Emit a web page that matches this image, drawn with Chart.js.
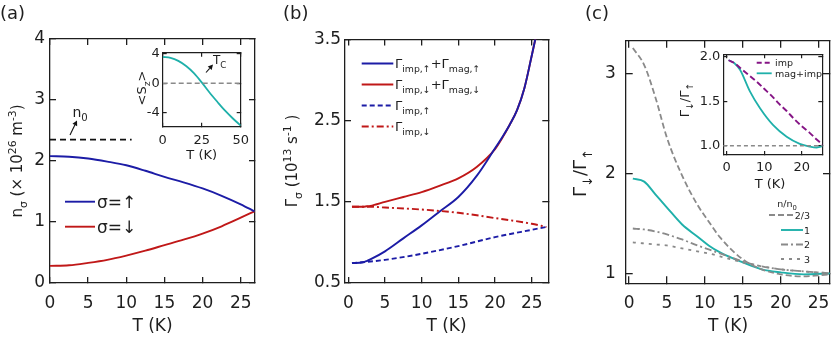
<!DOCTYPE html>
<html>
<head>
<meta charset="utf-8">
<script src="https://cdn.jsdelivr.net/npm/chart.js@4.4.1/dist/chart.umd.min.js"></script>
<style>
html, body { margin: 0; padding: 0; background: #fff; }
#wrap { position: relative; width: 831px; height: 337px; overflow: hidden; }
#wrap canvas { position: absolute; left: 0; top: 0; }
</style>
</head>
<body>
<div id="wrap">
	<canvas id="pa" width="831" height="337"></canvas>
	<canvas id="pas" width="831" height="337"></canvas>
	<canvas id="pb" width="831" height="337"></canvas>
	<canvas id="pc" width="831" height="337"></canvas>
	<canvas id="pcs" width="831" height="337"></canvas>
</div>
<script>
// ---- (a) spin densities
const tA = [0, 2.5, 5, 7.5, 10, 12.5, 15, 17.5, 20, 22.5, 25, 26.8];
const nUp = [2.08, 2.07, 2.04, 1.99, 1.93, 1.84, 1.74, 1.65, 1.55, 1.43, 1.29, 1.175];
const nDown = [0.28, 0.29, 0.33, 0.38, 0.45, 0.53, 0.62, 0.71, 0.81, 0.93, 1.07, 1.175];
const tN0 = [0, 10.7];
const n0 = [2.35, 2.35];
const xTicksA = [0, 5, 10, 15, 20, 25];
const yTicksA = [0, 1, 2, 3, 4];

// ---- (a) inset <Sz>
const tS = [0, 5, 10, 15, 20, 25, 30, 35, 40, 45, 50];
const sz = [3.55, 3.41, 3.0, 2.31, 1.35, 0.11, -1.25, -2.5, -3.7, -4.75, -5.7];
const tSzero = [0, 50];
const szZero = [0, 0];
const xTicksS = [0, 25, 50];
const yTicksS = [-4, 0, 4];

// ---- (b) scattering rates
const tImp = [0.5, 2.5, 5, 10, 15, 20, 25, 27];
const impUp = [0.745, 0.76, 0.785, 0.86, 0.955, 1.065, 1.155, 1.19];
const impDown = [1.44, 1.44, 1.43, 1.405, 1.365, 1.3, 1.23, 1.19];
const tTot = [0.5, 2, 2.5, 3, 5, 7.5, 10, 12.5, 15, 17.5, 20, 21, 22, 23, 24, 25, 25.6];
const totUp = [0.745, 0.755, 0.77, 0.79, 0.89, 1.05, 1.21, 1.385, 1.56, 1.82, 2.16, 2.3, 2.45, 2.63, 2.9, 3.3, 3.55];
const totDown = [1.44, 1.44, 1.445, 1.45, 1.5, 1.56, 1.62, 1.7, 1.79, 1.93, 2.15, 2.29, 2.45, 2.63, 2.9, 3.3, 3.55];
const xTicksB = [0, 5, 10, 15, 20, 25];
const yTicksB = [0.5, 1.5, 2.5, 3.5];
const yLabelsB = ['0.5', '1.5', '2.5', '3.5'];

// ---- (c) ratio for several n/n0
const tC = [0.5, 2, 3.5, 5, 7, 9, 10.5, 12, 15, 17.5, 20, 23, 26.5];
const r23 = [3.26, 3.09, 2.76, 2.36, 1.98, 1.69, 1.52, 1.36, 1.14, 1.04, 0.99, 0.97, 0.99];
const r1 = [1.95, 1.92, 1.79, 1.66, 1.49, 1.37, 1.28, 1.21, 1.11, 1.04, 1.01, 0.99, 1.0];
const r2 = [1.45, 1.44, 1.42, 1.39, 1.34, 1.28, 1.24, 1.2, 1.12, 1.07, 1.04, 1.02, 1.0];
const r3 = [1.31, 1.3, 1.29, 1.28, 1.25, 1.22, 1.2, 1.17, 1.11, 1.07, 1.04, 1.02, 1.0];
const xTicksC = [0, 5, 10, 15, 20, 25];
const yTicksC = [1, 2, 3];

// ---- (c) inset
const tI = [0.5, 2, 3.6, 6.2, 8.9, 12.4, 16, 19.5, 22.2, 24, 26];
const magImp = [1.96, 1.93, 1.85, 1.61, 1.42, 1.23, 1.1, 1.02, 0.99, 0.98, 1.0];
const tIimp = [0.5, 2, 4, 6, 8, 10, 12, 14, 16, 18, 20, 22, 24, 26];
const impRatio = [1.96, 1.93, 1.86, 1.79, 1.72, 1.64, 1.56, 1.47, 1.39, 1.3, 1.22, 1.15, 1.07, 1.0];
const tIone = [-1, 26];
const one = [1, 1];
const xTicksI = [0, 10, 20];
const yTicksI = [1, 1.5, 2];
const yLabelsI = ['1.0', '1.5', '2.0'];

const W = 831, H = 337, AXW = 40;
const FONT = '"DejaVu Sans", sans-serif';
const INK = '#1e1e1e';
const BLUE = '#1c1ca6', RED = '#c01818', TEAL = '#1fb0aa', PURPLE = '#851485', GREY = '#8a8a8a';

function pts(xs, ys) {
	return xs.map(function (x, i) { return { x: x, y: ys[i] }; });
}

function series(xs, ys, color, width, dash) {
	return {
		data: pts(xs, ys),
		showLine: true,
		borderColor: color,
		borderWidth: width,
		borderDash: dash || [],
		pointRadius: 0,
		cubicInterpolationMode: 'monotone'
	};
}

// one side of the box: library-drawn border plus inward ticks (negative tick length)
function axis(s, dir, pos, mirror, cfg) {
	const L = cfg.tick, lw = cfg.frame || 1.3;
	return {
		type: 'linear',
		axis: dir,
		position: pos,
		min: s.min,
		max: s.max,
		afterBuildTicks: function (sc) {
			sc.ticks = s.ticks.map(function (v) { return { value: v }; });
		},
		afterFit: function (sc) {
			const size = mirror ? 0 : AXW;
			if (dir === 'x') { sc.height = size; } else { sc.width = size; }
			sc.paddingLeft = sc.paddingRight = sc.paddingTop = sc.paddingBottom = 0;
		},
		grid: {
			display: true,
			drawOnChartArea: false,
			drawTicks: true,
			tickLength: -L,
			color: INK,
			lineWidth: lw,
			tickColor: INK,
			tickWidth: lw
		},
		border: { display: true, color: INK, width: lw },
		ticks: {
			display: !mirror,
			autoSkip: false,
			maxRotation: 0,
			padding: s.pad + L,
			color: INK,
			font: { family: FONT, size: s.size },
			callback: function (v, i) { return s.labels ? s.labels[i] : String(v); }
		}
	};
}

// rich text: segments of [text, kind], kind 0 normal, 1 subscript, 2 superscript
function drawRich(ctx, segs, x, y, size, align) {
	const fonts = segs.map(function (s) { return (s[1] ? size * 0.72 : size) + 'px ' + FONT; });
	let w = 0;
	segs.forEach(function (s, i) { ctx.font = fonts[i]; w += ctx.measureText(s[0]).width; });
	let cx = align === 'center' ? x - w / 2 : (align === 'right' ? x - w : x);
	segs.forEach(function (s, i) {
		ctx.font = fonts[i];
		const dy = s[1] === 1 ? size * 0.3 : (s[1] === 2 ? -size * 0.42 : 0);
		ctx.fillText(s[0], cx, y + dy);
		cx += ctx.measureText(s[0]).width;
	});
}

function decor(cfg) {
	return {
		id: 'decor',
		beforeDraw: function (chart) {
			if (!cfg.fill) {
				return;
			}
			const a = chart.chartArea;
			chart.ctx.save();
			chart.ctx.fillStyle = '#fff';
			chart.ctx.fillRect(a.left, a.top, a.right - a.left, a.bottom - a.top);
			chart.ctx.restore();
		},
		afterDraw: function (chart) {
			const ctx = chart.ctx;

			ctx.save();
			(cfg.lines || []).forEach(function (l) {
				ctx.strokeStyle = l.color;
				ctx.lineWidth = l.width;
				ctx.setLineDash(l.dash || []);
				ctx.beginPath();
				ctx.moveTo(l.x1, l.y);
				ctx.lineTo(l.x2, l.y);
				ctx.stroke();
			});
			ctx.setLineDash([]);

			(cfg.arrows || []).forEach(function (ar) {
				const ang = Math.atan2(ar.y2 - ar.y1, ar.x2 - ar.x1);
				const hl = 5, hw = 2.6;
				ctx.strokeStyle = '#111';
				ctx.fillStyle = '#111';
				ctx.lineWidth = 1.1;
				ctx.beginPath();
				ctx.moveTo(ar.x1, ar.y1);
				ctx.lineTo(ar.x2 - hl * Math.cos(ang), ar.y2 - hl * Math.sin(ang));
				ctx.stroke();
				ctx.beginPath();
				ctx.moveTo(ar.x2, ar.y2);
				ctx.lineTo(ar.x2 - hl * Math.cos(ang) - hw * Math.sin(ang), ar.y2 - hl * Math.sin(ang) + hw * Math.cos(ang));
				ctx.lineTo(ar.x2 - hl * Math.cos(ang) + hw * Math.sin(ang), ar.y2 - hl * Math.sin(ang) - hw * Math.cos(ang));
				ctx.closePath();
				ctx.fill();
			});

			ctx.fillStyle = INK;
			ctx.textBaseline = 'alphabetic';
			(cfg.texts || []).forEach(function (t) {
				if (t.rot) {
					ctx.save();
					ctx.translate(t.x, t.y);
					ctx.rotate(-Math.PI / 2);
					drawRich(ctx, t.segs, 0, t.size * 0.36, t.size, 'center');
					ctx.restore();
				} else {
					drawRich(ctx, t.segs, t.x, t.y, t.size, t.align || 'left');
				}
			});
			ctx.restore();
		}
	};
}

function makeChart(id, box, xs, ys, datasets, cfg) {
	return new Chart(document.getElementById(id), {
		type: 'scatter',
		data: { datasets: datasets },
		options: {
			responsive: false,
			animation: false,
			events: [],
			devicePixelRatio: 1,
			layout: { padding: { left: box.l - AXW, top: box.t, right: W - box.r, bottom: H - box.b - AXW } },
			plugins: { legend: { display: false }, tooltip: { enabled: false } },
			scales: {
				x: axis(xs, 'x', 'bottom', false, cfg),
				y: axis(ys, 'y', 'left', false, cfg),
				x2: axis(xs, 'x', 'top', true, cfg),
				y2: axis(ys, 'y', 'right', true, cfg)
			}
		},
		plugins: [decor(cfg)]
	});
}

// (a)
makeChart('pa', { l: 50, t: 39, r: 255, b: 283 },
	{ min: 0, max: 26.87, ticks: xTicksA, size: 17, pad: 10 },
	{ min: 0, max: 4, ticks: yTicksA, size: 17, pad: 5 },
	[
		series(tN0, n0, '#111', 1.6, [6, 4]),
		series(tA, nUp, BLUE, 1.9),
		series(tA, nDown, RED, 1.9)
	],
	{
		tick: 6,
		lines: [
			{ x1: 65, x2: 95, y: 201.7, color: BLUE, width: 1.9 },
			{ x1: 65, x2: 95, y: 226.7, color: RED, width: 1.9 }
		],
		arrows: [{ x1: 70, y1: 135, x2: 77, y2: 120.5 }],
		texts: [
			{ segs: [['(a)', 0]], x: 0, y: 19, size: 18 },
			{ segs: [['σ=↑', 0]], x: 97, y: 208, size: 17 },
			{ segs: [['σ=↓', 0]], x: 97, y: 233, size: 17 },
			{ segs: [['n', 0], ['0', 1]], x: 72.5, y: 116.5, size: 14 },
			{ segs: [['T (K)', 0]], x: 152.5, y: 331, size: 17, align: 'center' },
			{ segs: [['n', 0], ['σ', 1], [' (× 10', 0], ['26', 2], [' m', 0], ['-3', 2], [')', 0]], x: 17, y: 161, size: 15, rot: true }
		]
	});

// (a) inset
makeChart('pas', { l: 162.7, t: 52.7, r: 240.7, b: 126.7 },
	{ min: 0, max: 50, ticks: xTicksS, size: 13, pad: 6 },
	{ min: -5.85, max: 4.1, ticks: yTicksS, size: 13, pad: 3 },
	[
		series(tSzero, szZero, GREY, 1.4, [5, 3]),
		series(tS, sz, TEAL, 1.8)
	],
	{
		tick: 4,
		fill: true,
		frame: 1.2,
		arrows: [{ x1: 206, y1: 72.5, x2: 213, y2: 64.5 }],
		texts: [
			{ segs: [['T', 0], ['C', 1]], x: 213, y: 64, size: 12 },
			{ segs: [['T (K)', 0]], x: 201.7, y: 158.5, size: 13, align: 'center' },
			{ segs: [['<S', 0], ['z', 1], ['>', 0]], x: 141, y: 88, size: 13, rot: true }
		]
	});

// (b)
makeChart('pb', { l: 345, t: 39.5, r: 548.3, b: 283 },
	{ min: -0.45, max: 27.26, ticks: xTicksB, size: 17, pad: 10 },
	{ min: 0.5, max: 3.5, ticks: yTicksB, labels: yLabelsB, size: 17, pad: 4 },
	[
		series(tImp, impUp, BLUE, 1.9, [5, 3]),
		series(tImp, impDown, RED, 1.9, [7, 3, 2, 3]),
		series(tTot, totUp, BLUE, 1.9),
		series(tTot, totDown, RED, 1.9)
	],
	{
		tick: 6,
		lines: [
			{ x1: 361.7, x2: 393.3, y: 63.5, color: BLUE, width: 1.9 },
			{ x1: 361.7, x2: 393.3, y: 84.5, color: RED, width: 1.9 },
			{ x1: 361.7, x2: 393.3, y: 105.5, color: BLUE, width: 1.9, dash: [5, 3] },
			{ x1: 361.7, x2: 393.3, y: 126.5, color: RED, width: 1.9, dash: [7, 3, 2, 3] }
		],
		texts: [
			{ segs: [['(b)', 0]], x: 283, y: 19, size: 18 },
			{ segs: [['Γ', 0], ['imp,↑', 1], ['+Γ', 0], ['mag,↑', 1]], x: 395, y: 68, size: 13 },
			{ segs: [['Γ', 0], ['imp,↓', 1], ['+Γ', 0], ['mag,↓', 1]], x: 395, y: 89, size: 13 },
			{ segs: [['Γ', 0], ['imp,↑', 1]], x: 395, y: 110, size: 13 },
			{ segs: [['Γ', 0], ['imp,↓', 1]], x: 395, y: 131, size: 13 },
			{ segs: [['T (K)', 0]], x: 446.5, y: 331, size: 17, align: 'center' },
			{ segs: [['Γ', 0], ['σ', 1], [' (10', 0], ['13', 2], [' s', 0], ['-1', 2], [' )', 0]], x: 292, y: 161, size: 15, rot: true }
		]
	});

// (c)
makeChart('pc', { l: 625.7, t: 40.7, r: 830, b: 283.3 },
	{ min: -0.44, max: 26.5, ticks: xTicksC, size: 17, pad: 10 },
	{ min: 0.9, max: 3.334, ticks: yTicksC, size: 17, pad: 10 },
	[
		series(tC, r23, GREY, 1.8, [6, 3]),
		series(tC, r2, GREY, 1.8, [7, 3, 2, 3]),
		series(tC, r3, GREY, 1.8, [3, 5]),
		series(tC, r1, TEAL, 1.9)
	],
	{
		tick: 7,
		lines: [
			{ x1: 769, x2: 795, y: 215, color: GREY, width: 1.8, dash: [6, 3] },
			{ x1: 781, x2: 803, y: 230, color: TEAL, width: 1.9 },
			{ x1: 781, x2: 803, y: 244.5, color: GREY, width: 1.8, dash: [7, 3, 2, 3] },
			{ x1: 781, x2: 803, y: 259, color: GREY, width: 1.8, dash: [3, 5] }
		],
		texts: [
			{ segs: [['(c)', 0]], x: 585, y: 19, size: 18 },
			{ segs: [['n/n', 0], ['0', 1]], x: 787, y: 207, size: 9.5, align: 'center' },
			{ segs: [['2/3', 0]], x: 810, y: 218.5, size: 9.5, align: 'right' },
			{ segs: [['1', 0]], x: 810, y: 233.5, size: 9.5, align: 'right' },
			{ segs: [['2', 0]], x: 810, y: 248, size: 9.5, align: 'right' },
			{ segs: [['3', 0]], x: 810, y: 262.5, size: 9.5, align: 'right' },
			{ segs: [['T (K)', 0]], x: 728, y: 331, size: 17, align: 'center' },
			{ segs: [['Γ', 0], ['↓', 1], ['/Γ', 0], ['↑', 1]], x: 580, y: 173, size: 18, rot: true }
		]
	});

// (c) inset
makeChart('pcs', { l: 723.3, t: 54.3, r: 822.3, b: 155 },
	{ min: -0.9, max: 25.5, ticks: xTicksI, size: 13, pad: 5 },
	{ min: 0.8955, max: 2.027, ticks: yTicksI, labels: yLabelsI, size: 13, pad: 3 },
	[
		series(tIone, one, GREY, 1.4, [4, 3]),
		series(tIimp, impRatio, PURPLE, 1.9, [6, 3]),
		series(tI, magImp, TEAL, 1.8)
	],
	{
		tick: 4,
		fill: true,
		frame: 1.2,
		lines: [
			{ x1: 756.7, x2: 771.7, y: 62.7, color: PURPLE, width: 1.9, dash: [5, 3] },
			{ x1: 756.7, x2: 771.7, y: 73.3, color: TEAL, width: 1.8 }
		],
		texts: [
			{ segs: [['imp', 0]], x: 775, y: 66, size: 9.5 },
			{ segs: [['mag+imp', 0]], x: 775, y: 76.5, size: 9.5 },
			{ segs: [['T (K)', 0]], x: 770, y: 188, size: 13, align: 'center' },
			{ segs: [['Γ', 0], ['↓', 1], ['/Γ', 0], ['↑', 1]], x: 684, y: 100, size: 13, rot: true }
		]
	});
</script>
</body>
</html>
